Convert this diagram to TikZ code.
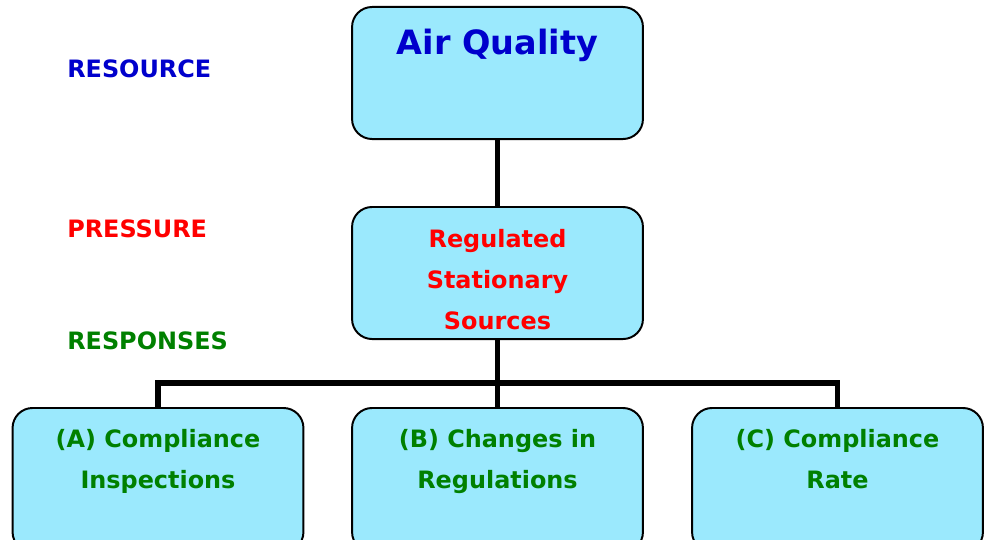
\documentclass[tikz,border=0pt]{standalone}
\usepackage{fontspec}
\setmainfont{DejaVu Sans}
\usetikzlibrary{positioning}
\definecolor{boxcyan}{RGB}{155,233,253}
\definecolor{resblue}{RGB}{0,0,204}
\definecolor{respgreen}{RGB}{0,128,0}

\begin{document}
\begin{tikzpicture} [x=0.025cm,y=-0.025cm,
  box/.style={draw,fill=boxcyan,line width=1.4pt,rounded corners=0.5cm,minimum width=7.27cm,minimum height=3.3cm},
  txt/.style={font=\bfseries\fontsize{17}{29}\selectfont,align=center,inner sep=0pt,text depth=0.25em},
  conn/.style={line width=3.6pt}]
\useasboundingbox (0,0) rectangle (984,539);
\clip (0,0) rectangle (984,539);
\node [box] (aq) at (497.5,73) {};
\node [box] (rss) at (497.5,273) {};
\node [box,minimum height=3.6cm] (ci) at (158,480) {};
\node [box,minimum height=3.6cm] (cr) at (497.5,480) {};
\node [box,minimum height=3.6cm] (rate) at (837.5,480) {};
\coordinate (bus) at (497.5,383);
\draw [conn] (aq) -- (rss);
\draw [conn] (rss) -- (bus);
\draw [conn] (ci.north) |- (bus) -| (rate.north);
\draw [conn] (bus) -- (cr.north);
\node [txt,text=resblue,font=\bfseries\fontsize{23.8}{29}\selectfont] (aqtext) at (497.5,44) {Air Quality};
\node [txt,text=red] (rsstext) at (497.5,281) {Regulated\\Stationary\\Sources};
\node [txt,text=respgreen] (citext) at (158,460.5) {(A) Compliance\\Inspections};
\node [txt,text=respgreen] (crtext) at (497.5,460.5) {(B) Changes in\\Regulations};
\node [txt,text=respgreen] (ratetext) at (837.5,460.5) {(C) Compliance\\Rate};
\node [txt,text=resblue,anchor=west] (resource) at (67,70) {RESOURCE};
\node [txt,text=red,anchor=west] (pressure) at (67,230) {PRESSURE};
\node [txt,text=respgreen,anchor=west] (responses) at (67,342) {RESPONSES};
\end{tikzpicture}
\end{document}
